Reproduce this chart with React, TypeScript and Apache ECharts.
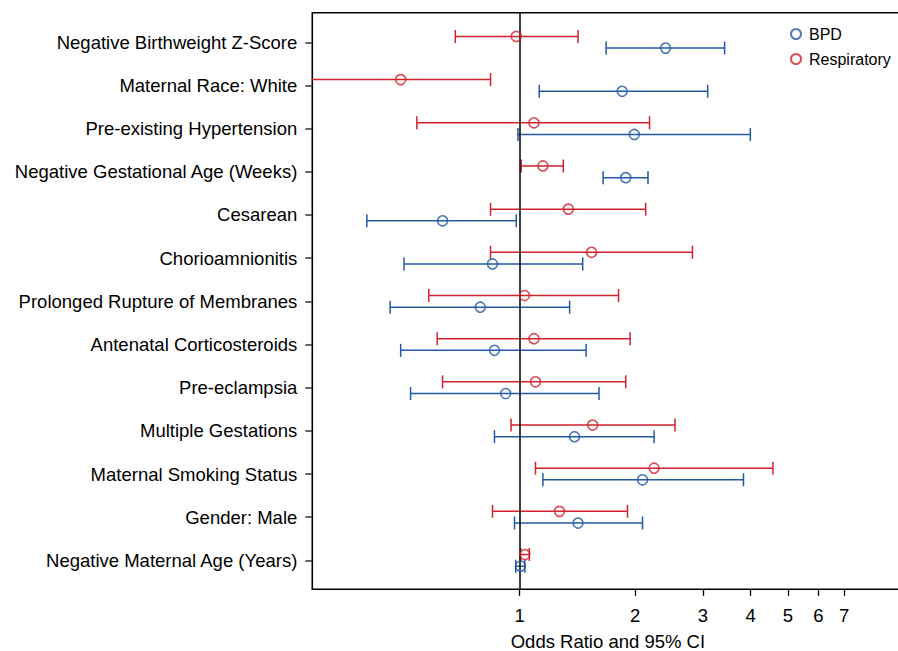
import React, { useEffect, useRef } from "react";
import * as echarts from "echarts";

const categories = [
  "Negative Birthweight Z-Score",
  "Maternal Race: White",
  "Pre-existing Hypertension",
  "Negative Gestational Age (Weeks)",
  "Cesarean",
  "Chorioamnionitis",
  "Prolonged Rupture of Membranes",
  "Antenatal Corticosteroids",
  "Pre-eclampsia",
  "Multiple Gestations",
  "Maternal Smoking Status",
  "Gender: Male",
  "Negative Maternal Age (Years)",
];

const bpdOR = [2.4, 1.85, 1.99, 1.89, 0.63, 0.85, 0.79, 0.86, 0.92, 1.39, 2.09, 1.42, 1.005];
const bpdLower = [1.68, 1.125, 0.99, 1.65, 0.4, 0.5, 0.46, 0.49, 0.52, 0.86, 1.15, 0.97, 0.977];
const bpdUpper = [3.42, 3.09, 3.99, 2.16, 0.98, 1.46, 1.35, 1.49, 1.61, 2.24, 3.83, 2.09, 1.032];

const respOR = [0.98, 0.49, 1.09, 1.15, 1.34, 1.54, 1.03, 1.09, 1.1, 1.55, 2.24, 1.27, 1.032];
const respLower = [0.68, 0.25, 0.54, 1.01, 0.84, 0.84, 0.58, 0.61, 0.63, 0.95, 1.1, 0.85, 1.006];
const respUpper = [1.42, 0.84, 2.18, 1.3, 2.13, 2.82, 1.81, 1.94, 1.89, 2.54, 4.57, 1.91, 1.06];

const xTickValues = [1, 2, 3, 4, 5, 6, 7];
const seriesNames = ["BPD", "Respiratory"];

const BLUE = "#2359a5";
const RED = "#d3212d";
const FONT = "'Liberation Sans', Arial, Helvetica, sans-serif";
const OFFSET = 0.135;

function buildBars(or: number[], lo: number[], hi: number[], offset: number) {
  return categories.map((_, i) => [i + 1 + offset, Math.log10(lo[i]), Math.log10(hi[i]), Math.log10(or[i])]);
}
function buildPoints(or: number[], offset: number) {
  return categories.map((_, i) => [Math.log10(or[i]), i + 1 + offset]);
}

export default function App() {
  const ref = useRef<HTMLDivElement>(null);
  useEffect(() => {
    document.body.style.margin = "0";
    const chart = echarts.init(ref.current as HTMLDivElement, null, { renderer: "svg" });

    const errorBar = (color: string) => (params: any, api: any) => {
      const y = api.value(0);
      const a = api.coord([api.value(1), y]);
      const b = api.coord([api.value(2), y]);
      const cap = 6.5;
      const style = { stroke: color, lineWidth: 1.5, fill: null };
      return {
        type: "group",
        children: [
          { type: "line", shape: { x1: a[0], y1: a[1], x2: b[0], y2: b[1] }, style },
          { type: "line", shape: { x1: a[0], y1: a[1] - cap, x2: a[0], y2: a[1] + cap }, style },
          { type: "line", shape: { x1: b[0], y1: b[1] - cap, x2: b[0], y2: b[1] + cap }, style },
        ],
      };
    };

    const tickLogs = xTickValues.map((v) => Math.log10(v));
    const rowTicks = categories.map((_, i) => i + 1);

    chart.setOption({
      animation: false,
      backgroundColor: "#fff",
      textStyle: { fontFamily: FONT },
      grid: {
        left: 312.3,
        right: -5.5,
        top: 12.7,
        bottom: 61.7,
        containLabel: false,
        outerBoundsMode: "none",
        show: true,
        borderColor: "#000",
        borderWidth: 1.6,
        backgroundColor: "transparent",
      },
      legend: {
        orient: "vertical",
        left: 790,
        top: 26,
        padding: 0,
        itemWidth: 16,
        itemHeight: 10,
        itemGap: 9,
        textStyle: { fontSize: 16, color: "#000", fontFamily: FONT },
        data: seriesNames.map((n) => ({ name: n, icon: "circle" })),
      },
      xAxis: {
        type: "value",
        min: -0.54,
        max: 1,
        name: "Odds Ratio and 95% CI",
        nameLocation: "middle",
        nameGap: 44,
        nameTextStyle: { fontSize: 18.5, lineHeight: 17, color: "#000", fontFamily: FONT },
        axisLine: { show: false, onZero: false },
        splitLine: { show: false },
        axisTick: {
          show: true,
          customValues: tickLogs,
          length: 6.5,
          lineStyle: { color: "#000", width: 1.3 },
        },
        axisLabel: {
          customValues: tickLogs,
          margin: 17,
          fontSize: 18.5,
          color: "#000",
          fontFamily: FONT,
          formatter: (v: number) => String(Math.round(Math.pow(10, v))),
        },
      },
      yAxis: {
        type: "value",
        inverse: true,
        min: 0.315,
        max: 13.67,
        axisLine: { show: false, onZero: false },
        splitLine: { show: false },
        axisTick: {
          show: true,
          customValues: rowTicks,
          length: 7,
          lineStyle: { color: "#333", width: 1.5 },
        },
        axisLabel: {
          customValues: rowTicks,
          margin: 15,
          fontSize: 18.5,
          color: "#000",
          fontFamily: FONT,
          formatter: (v: number) => categories[Math.round(v) - 1] || "",
        },
      },
      series: [
        {
          type: "custom",
          name: "BPD-ci",
          clip: true,
          renderItem: errorBar(BLUE),
          encode: { x: [1, 2], y: 0 },
          data: buildBars(bpdOR, bpdLower, bpdUpper, OFFSET),
          markLine: {
            silent: true,
            symbol: ["none", "none"],
            label: { show: false },
            lineStyle: { color: "#000", width: 1.5, type: "solid" },
            data: [{ xAxis: 0 }],
          },
        },
        {
          type: "custom",
          name: "Respiratory-ci",
          clip: true,
          renderItem: errorBar(RED),
          encode: { x: [1, 2], y: 0 },
          data: buildBars(respOR, respLower, respUpper, -OFFSET),
        },
        {
          type: "scatter",
          name: seriesNames[0],
          symbol: "circle",
          symbolSize: 10,
          itemStyle: { color: "rgba(255,255,255,0)", borderColor: BLUE, borderWidth: 1.6 },
          data: buildPoints(bpdOR, OFFSET),
          z: 5,
        },
        {
          type: "scatter",
          name: seriesNames[1],
          symbol: "circle",
          symbolSize: 10,
          itemStyle: { color: "rgba(255,255,255,0)", borderColor: RED, borderWidth: 1.6 },
          data: buildPoints(respOR, -OFFSET),
          z: 5,
        },
      ],
    });
    return () => chart.dispose();
  }, []);
  return <div ref={ref} style={{ position: "absolute", left: 0, top: 0, width: 898, height: 651 }} />;
}
